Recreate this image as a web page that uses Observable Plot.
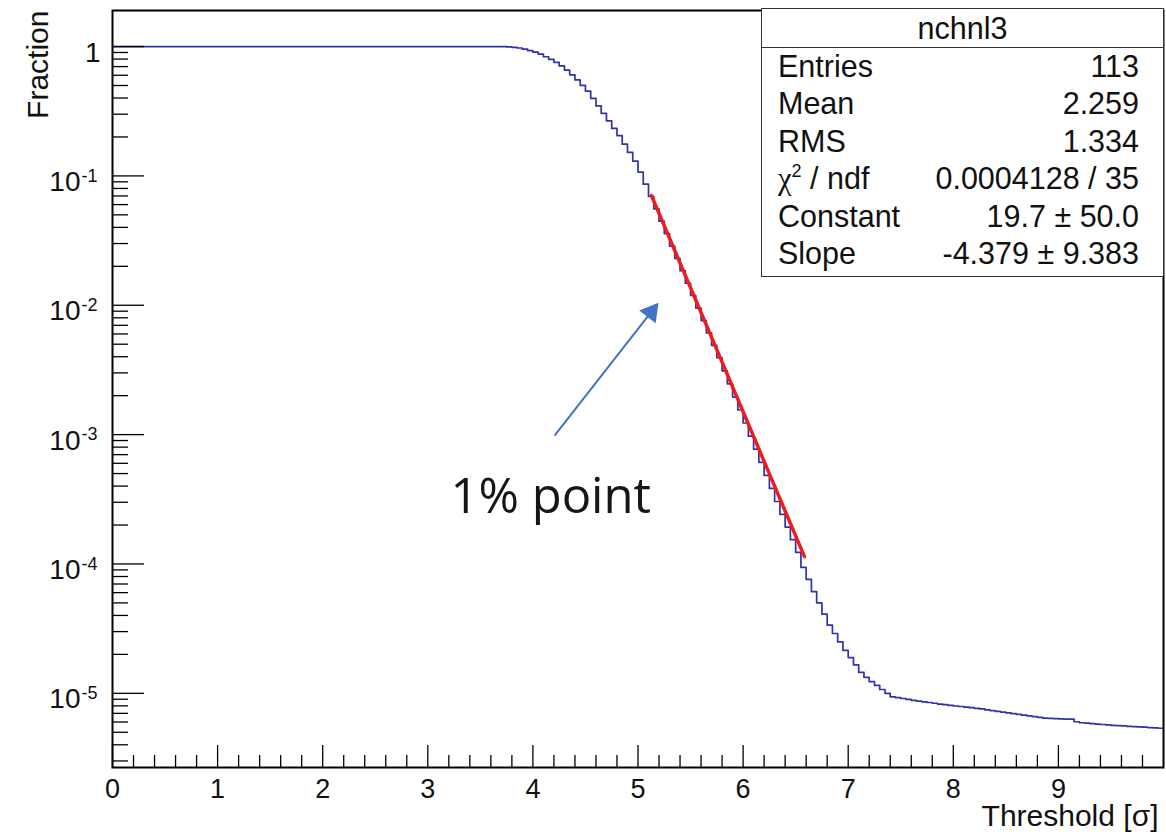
<!DOCTYPE html>
<html><head><meta charset="utf-8">
<script src="https://cdn.jsdelivr.net/npm/d3@7"></script>
<script src="https://cdn.jsdelivr.net/npm/@observablehq/plot@0.6"></script>
<style>
body{margin:0;background:#fff;}
#wrap{position:relative;width:1166px;height:832px;font-family:"Liberation Sans",Arial,sans-serif;}
#wrap svg{position:absolute;left:0;top:0;}
#stats{position:absolute;left:761px;top:8px;width:403px;height:269px;box-sizing:border-box;border:1.6px solid #333;background:#fff;color:#111;font-size:30.5px;}
#stats .hdr{height:37.5px;line-height:39px;text-align:center;border-bottom:1.6px solid #333;}
#stats .row{display:flex;justify-content:space-between;height:37.6px;line-height:37.6px;padding:0 24px 0 16px;}
#stats .chi{font-family:"Liberation Serif","DejaVu Serif",serif;}
#stats sup{font-size:18px;line-height:0;vertical-align:12px;}
</style></head><body><div id="wrap"></div>
<script>
// ---- data ----
const histName = "nchnl3";
const binWidth = 0.05;          // 200 bins from 0 to 10
const fraction = [
 1,1,1,1,1,1,1,1,1,1, 1,1,1,1,1,1,1,1,1,1, 1,1,1,1,1,1,1,1,1,1, 1,1,1,1,1,1,1,1,1,1,
 1,1,1,1,1,1,1,1,1,1, 1,1,1,1,1,1,1,1,1,1, 1,1,1,1,1,1,1,1,1,1, 1,1,1,1,
 0.998,0.993,0.986,0.975,0.955,0.929,0.906,0.875,0.834,0.796,
 0.755,0.708,0.658,0.605,0.552,0.501,0.453,0.398,0.348,0.304,
 0.266,0.233,0.205,0.176,0.152,0.130,0.107,0.0863,0.0695,0.0557,
 0.0447,0.0358,0.0287,0.0230,0.0185,0.0148,0.0119,0.00951,0.00762,0.00611,
 0.00490,0.00393,0.00311,0.00247,0.00195,0.00155,0.00123,0.000973,0.000771,0.000611,
 0.000484,0.000384,0.000304,0.000242,0.000193,0.000154,0.000123,9.42e-5,7.59e-5,6.12e-5,
 5.01e-5,4.10e-5,3.37e-5,2.90e-5,2.50e-5,2.15e-5,1.89e-5,1.66e-5,1.45e-5,1.33e-5,
 1.23e-5,1.15e-5,1.07e-5,1.00e-5,9.40e-6,9.25e-6,9.12e-6,8.97e-6,8.83e-6,8.71e-6,
 8.59e-6,8.49e-6,8.38e-6,8.26e-6,8.17e-6,8.07e-6,7.98e-6,7.91e-6,7.82e-6,7.74e-6,
 7.66e-6,7.57e-6,7.46e-6,7.36e-6,7.26e-6,7.16e-6,7.06e-6,6.97e-6,6.87e-6,6.78e-6,
 6.70e-6,6.61e-6,6.52e-6,6.44e-6,6.41e-6,6.38e-6,6.35e-6,6.32e-6,6.31e-6,6.03e-6,
 5.92e-6,5.89e-6,5.83e-6,5.78e-6,5.74e-6,5.70e-6,5.66e-6,5.62e-6,5.60e-6,5.56e-6,
 5.53e-6,5.50e-6,5.47e-6,5.43e-6,5.41e-6,5.37e-6
];
const fitX = [5.128, 6.584];
const fitY = [0.0705, 1.14e-4];

const xTickValues = [0,1,2,3,4,5,6,7,8,9];
const yTickValues = [1, 0.1, 0.01, 0.001, 0.0001, 0.00001];
const yTickExponents = ["", "-1", "-2", "-3", "-4", "-5"];

const statLabels = ["Entries","Mean","RMS","χ2 / ndf","Constant","Slope"];
const statValues = ["113","2.259","1.334","0.0004128 / 35","19.7 ± 50.0","-4.379 ± 9.383"];

const annotationText = "1% point";
const arrowFrom = {x: 4.206, y: 9.84e-4};
const arrowHead = {x: 5.125, y: 0.00885};

const xLabel = "Threshold [σ]";
const yLabel = "Fraction";

// ---- derived structures ----
const histPts = fraction.map((v, i) => ({x: i * binWidth, y: v}));
histPts.push({x: fraction.length * binWidth, y: fraction[fraction.length - 1]});
const yDomain = [2.67e-6, 1.9];
const yMinor = [];
for (let k = -6; k <= 0; k++) for (let m = 2; m <= 9; m++) {
  const v = m * Math.pow(10, k);
  if (v >= yDomain[0] && v <= yDomain[1]) yMinor.push(v);
}
const xMinor = [];
for (let i = 1; i < 50; i++) if (i % 5 !== 0) xMinor.push(i * 0.2);
const fitPts = fitX.map((x, i) => ({x, y: fitY[i]}));
const yLab = yTickValues.map((v, i) => ({v, e: yTickExponents[i]}));

const W = 1166, H = 832, mL = 112, mR = 3, mT = 10, mB = 65;
const pw = W - mL - mR, ph = H - mT - mB;
const font = "Liberation Sans, Arial, sans-serif";

const chart = Plot.plot({
  width: W, height: H, marginLeft: mL, marginRight: mR, marginTop: mT, marginBottom: mB,
  x: {domain: [0, 10], axis: null},
  y: {type: "log", domain: yDomain, axis: null},
  style: {fontFamily: font, background: "white", color: "black"},
  marks: [
    Plot.line(histPts, {x: "x", y: "y", curve: "step-after", stroke: "#3232ad", strokeWidth: 1.7}),
    Plot.line(fitPts, {x: "x", y: "y", stroke: "#ee1c1c", strokeWidth: 3.5}),
    // ticks (pointing inward, ROOT style)
    Plot.tickY(yMinor, {y: d => d, stroke: "black", strokeWidth: 1.3, insetRight: pw - 16}),
    Plot.tickY(yTickValues, {y: d => d, stroke: "black", strokeWidth: 1.3, insetRight: pw - 32}),
    Plot.tickX(xMinor, {x: d => d, stroke: "black", strokeWidth: 1.3, insetTop: ph - 12}),
    Plot.tickX(xTickValues, {x: d => d, stroke: "black", strokeWidth: 1.3, insetTop: ph - 22}),
    Plot.frame({stroke: "black", strokeWidth: 2}),
    // tick labels
    Plot.text(xTickValues, {x: d => d, frameAnchor: "bottom", dy: 22, text: d => String(d), fontSize: 27, lineAnchor: "middle", fill: "#111"}),
    Plot.text(yLab.filter(d => d.e === ""), {y: "v", frameAnchor: "left", dx: -12, dy: 6, text: d => "1", fontSize: 28, textAnchor: "end", lineAnchor: "middle", fill: "#111"}),
    Plot.text(yLab.filter(d => d.e !== ""), {y: "v", frameAnchor: "left", dx: -32, dy: 6, text: d => "10", fontSize: 28, textAnchor: "end", lineAnchor: "middle", fill: "#111"}),
    Plot.text(yLab.filter(d => d.e !== ""), {y: "v", frameAnchor: "left", dx: -31, dy: 0, text: "e", fontSize: 18, textAnchor: "start", lineAnchor: "middle", fill: "#111"}),
    // axis titles
    Plot.text([xLabel], {frameAnchor: "bottom-right", dx: -5, dy: 58, text: d => d, fontSize: 30, textAnchor: "end", lineAnchor: "bottom", fill: "#111"}),
    Plot.text([yLabel], {frameAnchor: "top-left", dx: -74, dy: 0, rotate: -90, text: d => d, fontSize: 30, textAnchor: "end", lineAnchor: "middle", fill: "#111"}),
    // annotation
    Plot.link([0], {x1: () => arrowFrom.x, y1: () => arrowFrom.y, x2: () => arrowHead.x, y2: () => arrowHead.y, stroke: "#4472c4", strokeWidth: 2}),
    Plot.dot([arrowHead], {x: "x", y: "y", symbol: "triangle", r: 7.7, fill: "#4472c4", stroke: "none", rotate: 38}),
    Plot.text([annotationText], {x: () => 3.215, y: () => 2.47e-4, text: d => d, fontSize: 49, fontFamily: "Open Sans", textAnchor: "start", lineAnchor: "bottom", fill: "#161616"})
  ]
});
const wrap = document.getElementById("wrap");
wrap.appendChild(chart);

// statistics box (ROOT stats panel)
const box = document.createElement("div");
box.id = "stats";
let html = `<div class="hdr">${histName}</div>`;
statLabels.forEach((l, i) => {
  const lab = l.replace("χ2", '<span class="chi">χ</span><sup>2</sup>');
  html += `<div class="row"><span>${lab}</span><span>${statValues[i]}</span></div>`;
});
box.innerHTML = html;
wrap.appendChild(box);
</script>
</body></html>
